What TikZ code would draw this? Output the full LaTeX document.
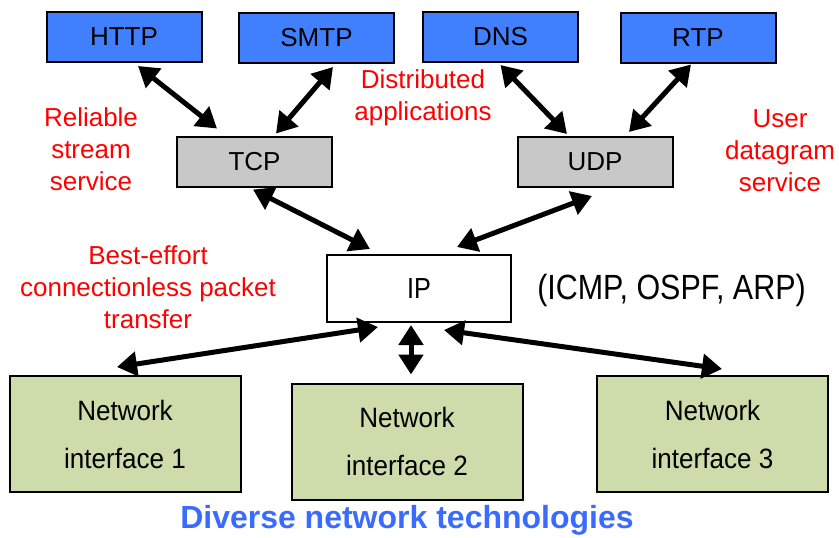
\documentclass[tikz,border=0pt]{standalone}
\usepackage{fontspec}
\setmainfont{Liberation Sans}
\newfontfamily\narrowsf[FakeStretch=0.87]{Liberation Sans}
\newfontfamily\nisf[FakeStretch=0.93]{Liberation Sans}
\usetikzlibrary{positioning,arrows.meta,calc}

\definecolor{appblue}{RGB}{64,128,255}
\definecolor{tpgray}{RGB}{200,200,200}
\definecolor{nigreen}{RGB}{205,220,170}
\definecolor{techblue}{RGB}{58,107,255}

\begin{document}
\begin{tikzpicture}[x=1pt,y=-1pt,
  box/.style={draw,line width=2pt,minimum width=155pt,minimum height=50pt,align=center,font=\fontsize{26}{30}\selectfont},
  nibox/.style={draw,line width=2pt,minimum width=231pt,minimum height=116pt,align=center,fill=nigreen,font=\nisf\fontsize{28}{48}\selectfont},
  note/.style={align=center,text=red,font=\fontsize{26}{32}\selectfont},
  link/.style={{Triangle[length=20pt,width=24pt]}-{Triangle[length=20pt,width=24pt]},line width=5pt}
]
\useasboundingbox (0,0) rectangle (839,538);

% applications
\node[box,fill=appblue] (http) at (124,37) {HTTP};
\node[box,fill=appblue] (smtp) at (316.5,38) {SMTP};
\node[box,fill=appblue] (dns) at (500.5,37) {DNS};
\node[box,fill=appblue] (rtp) at (698,37.5) {RTP};

% transport
\node[box,fill=tpgray] (tcp) at (254.5,161.5) {TCP};
\node[box,fill=tpgray] (udp) at (595,162) {UDP};

% network layer
\node[box,minimum width=184pt,minimum height=67pt,font=\narrowsf\fontsize{29}{32}\selectfont] (ip) at (419,288.5) {IP};
\node[font=\narrowsf\fontsize{35}{40}\selectfont] (ipext) at (671.5,290) {(ICMP, OSPF, ARP)};

% network interfaces
\node[nibox] (ni1) at (125,434) {Network\\interface 1};
\node[nibox] (ni2) at (407,441.5) {Network\\interface 2};
\node[nibox] (ni3) at (712.5,434) {Network\\interface 3};

% red notes
\node[note] (reliable) at (91,149) {Reliable\\stream\\service};
\node[note] (distrib) at (423,98) {Distributed\\applications};
\node[note] (userdg) at (780,151) {User\\datagram\\service};
\node[note] (besteff) at (148,287) {Best-effort\\connectionless packet\\transfer};

\node[text=techblue,font=\bfseries\fontsize{32}{36}\selectfont] (diverse) at (407,520) {Diverse network technologies};

% links
\draw[link] ($(http.south)+(14,3)$) -- ($(tcp.north)+(-37.5,-7)$);
\draw[link] ($(smtp.south)+(16.5,3)$) -- ($(tcp.north)+(21.5,-2)$);
\draw[link] ($(dns.south)+(0,2)$) -- ($(udp.north)+(-28,-2)$);
\draw[link] ($(rtp.south)+(-7,1)$) -- ($(udp.north)+(34,-4)$);
\draw[link] ($(tcp.south)+(-1.5,2)$) -- ($(ip.north)+(-49,-5)$);
\draw[link] ($(udp.south)+(-3,8)$) -- ($(ip.north)+(38,-7)$);
\draw[link] ($(ip.south)+(-41,4)$) -- ($(ni1.north)+(-8,-8)$);
\draw[link] ($(ip.south)+(-8,2)$) -- ($(ni2.north)+(4,-8)$);
\draw[link] ($(ip.south)+(25,7)$) -- ($(ni3.north)+(9.5,-6)$);
\end{tikzpicture}
\end{document}
